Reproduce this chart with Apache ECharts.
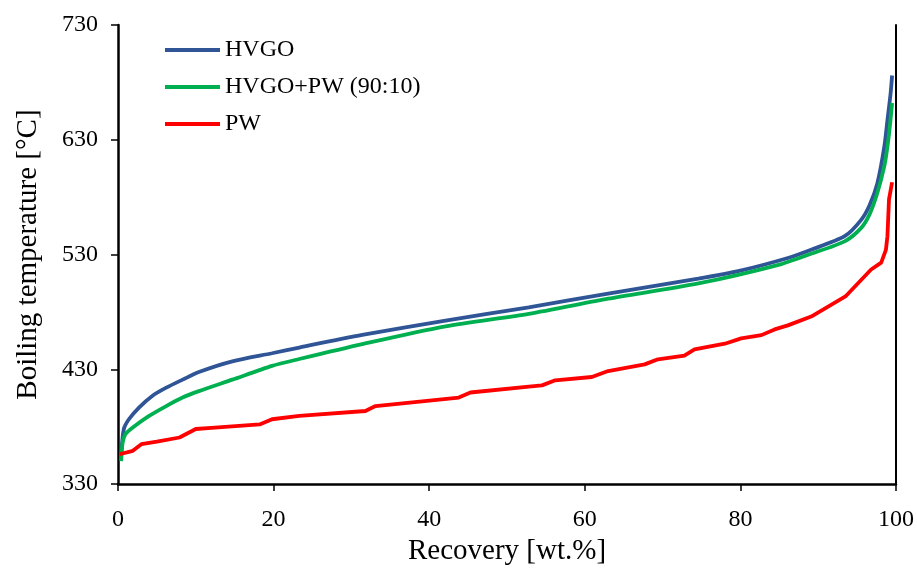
<!DOCTYPE html>
<html>
<head>
<meta charset="utf-8">
<script src="https://cdn.jsdelivr.net/npm/echarts@6/dist/echarts.min.js"></script>
<style>
  html, body { margin: 0; padding: 0; background: #fff; }
  #chart { width: 917px; height: 571px; }
</style>
</head>
<body>
<div id="chart"></div>
<script>
  const seriesNames = ['HVGO', 'HVGO+PW (90:10)', 'PW'];
  const seriesColors = ['#2F5597', '#00B050', '#FF0000'];

  const hvgoX = [0.4, 0.75, 1.4, 2.7, 4.4, 6.2, 8.3, 10.4, 14.7, 19.8, 23.3, 31.4, 42.1, 52.8, 63, 74.6, 80, 86.1, 89, 93.4, 95.5, 96.6, 97.6, 98.5, 98.9, 99.3, 99.5];
  const hvgoY = [355, 378, 386.5, 396.7, 406.8, 414, 421, 427.7, 437, 444, 449, 460, 472.5, 484, 496, 509, 516, 527, 534, 546, 560, 573, 592, 624, 647, 670, 686];

  const blendX = [0.4, 0.6, 0.95, 1.9, 4, 6.2, 8.3, 10.4, 14.7, 19.8, 23.3, 31.4, 42.1, 52.8, 63, 74.6, 84.9, 89, 93.4, 95.5, 96.6, 97.6, 98.5, 98.9, 99.2, 99.5];
  const blendY = [350, 366.2, 373.5, 379.3, 389.4, 398, 405.4, 411, 421, 433, 439, 452, 467.5, 478.4, 491.5, 504.8, 521, 530.5, 541.5, 553, 565, 583.6, 607, 624, 641, 662];

  const pwX = [0.2, 1.9, 3, 5, 7.9, 10, 12, 18.2, 19.8, 23.3, 31.8, 33.1, 43.8, 45.3, 52.8, 54.5, 56.2, 60.9, 63, 67.7, 69.4, 72.8, 74.1, 78, 80.1, 82.7, 84.4, 86.1, 89.1, 93.5, 96.8, 98.1, 98.7, 98.9, 99.1, 99.5];
  const pwY = [356, 359, 364.8, 367, 370.6, 378, 379, 382, 386.5, 389.4, 393.7, 398, 405.4, 409.8, 415, 416, 420.4, 423.3, 428.5, 434.3, 438.7, 442, 447.4, 452.3, 457, 459.8, 464.8, 468.3, 476, 493.5, 517, 523, 534, 546, 578, 593];

  const xs = [hvgoX, blendX, pwX];
  const ys = [hvgoY, blendY, pwY];

  const font = '"Liberation Serif", serif';
  const chart = echarts.init(document.getElementById('chart'));

  chart.setOption({
    animation: false,
    grid: { left: 118, right: 19, top: 25, bottom: 86 },
    legend: {
      orient: 'vertical',
      left: 160,
      top: 33,
      icon: 'rect',
      itemWidth: 55,
      itemHeight: 4,
      itemGap: 13,
      textStyle: { fontFamily: font, fontSize: 24, color: '#000' },
      data: seriesNames,
    },
    xAxis: {
      type: 'value',
      min: 0,
      max: 100,
      interval: 20,
      name: 'Recovery [wt.%]',
      nameLocation: 'middle',
      nameGap: 51,
      nameTextStyle: { fontFamily: font, fontSize: 29, color: '#000' },
      axisLine: { lineStyle: { color: '#000', width: 2.5 } },
      axisTick: { show: true, length: 7, lineStyle: { color: '#000', width: 1.5 } },
      axisLabel: { fontFamily: font, fontSize: 24, color: '#000', margin: 24 },
      splitLine: { show: false },
    },
    yAxis: [
      {
        type: 'value',
        min: 330,
        max: 730,
        interval: 100,
        name: 'Boiling temperature [°C]',
        nameLocation: 'middle',
        nameGap: 75,
        nameTextStyle: { fontFamily: font, fontSize: 29, color: '#000' },
        axisLine: { show: true, lineStyle: { color: '#000', width: 2.5 } },
        axisTick: { show: true, length: 7, lineStyle: { color: '#000', width: 1.5 } },
        axisLabel: { fontFamily: font, fontSize: 24, color: '#000', margin: 20 },
        splitLine: { show: false },
      },
      {
        type: 'value',
        position: 'right',
        min: 330,
        max: 730,
        interval: 100,
        axisLine: { show: true, lineStyle: { color: '#000', width: 2 } },
        axisTick: { show: false },
        axisLabel: { show: false },
        splitLine: { show: false },
      },
    ],
    series: seriesNames.map((name, i) => ({
      name,
      type: 'line',
      showSymbol: false,
      symbol: 'none',
      smooth: i === 2 ? false : 0.25,
      lineStyle: { color: seriesColors[i], width: 3.8 },
      itemStyle: { color: seriesColors[i] },
      data: xs[i].map((x, j) => [x, ys[i][j]]),
    })),
  });
</script>
</body>
</html>
